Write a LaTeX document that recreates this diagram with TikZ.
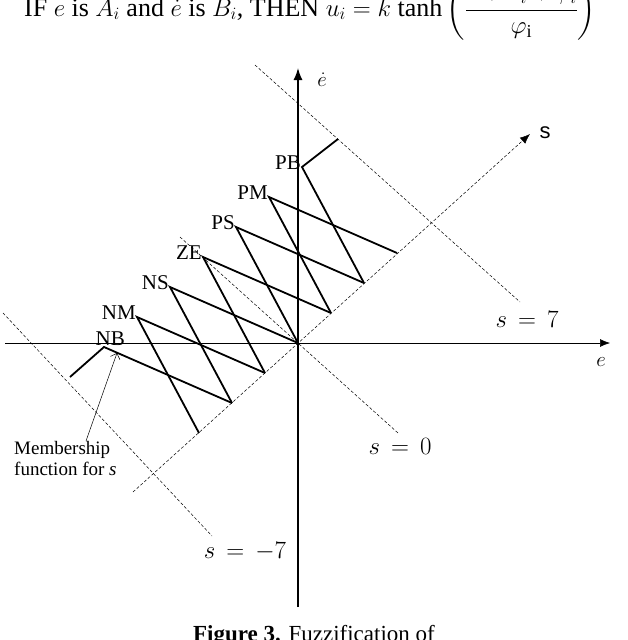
\documentclass[tikz,border=0pt]{standalone}
\usepackage{amsmath}
\usepackage{fontspec}
\setmainfont{Liberation Serif}
\newfontfamily\sansf{Liberation Sans}
\usetikzlibrary{arrows.meta,calc}
\begin{document}
\begin{tikzpicture}[x=1pt,y=-1pt,
  dsh/.style={line width=0.5pt,dash pattern=on 3pt off 2pt},
  mf/.style={line width=1.8pt},
  lab/.style={font=\fontsize{21}{21}\selectfont,inner sep=1pt},
  slab/.style={font=\fontsize{25}{25}\selectfont,inner sep=0pt}]
\useasboundingbox (0,0) rectangle (628,640);
\clip (0,0) rectangle (628,640);
% formula
\node[anchor=west,font=\fontsize{26}{26}\selectfont,inner sep=0pt] (f) at (24,10)
 {IF $e$ is $A_i$ and $\dot e$ is $B_i$, THEN $u_i = k\ \mathrm{tanh}\left(\dfrac{s+\lambda_i+\phi_i}{\varphi_\mathrm{i}}\right)$};
% axes
\coordinate (O) at (298,343);
\coordinate (exl) at (5,343); \coordinate (exr) at (610,343);
\coordinate (eyb) at (298,607); \coordinate (eyt) at (298,68);
\draw[line width=0.6pt,-{Latex[length=10pt,width=8pt]}] (exl) -- (exr);
\draw[line width=1.5pt,-{Latex[length=12pt,width=9pt]}] (eyb) -- (eyt);
\node[font=\fontsize{20}{20}\selectfont,inner sep=0pt] (el) at (601,362) {$e$};
\node[font=\fontsize{20}{20}\selectfont,inner sep=0pt] (edl) at (322,80) {$\dot e$};
% s axis
\coordinate (sa) at (133,492); \coordinate (sb) at (530,134);
\draw[dsh,-{Latex[length=10pt,width=8pt]}] (sa) -- (sb);
\node[font=\sansf\fontsize{22}{22}\selectfont] (sl) at (545,133) {s};
% s=const lines
\coordinate (z1) at (180,237); \coordinate (z2) at (398,433);
\draw[dsh] (z1) -- (z2);
\coordinate (p1) at (255,65); \coordinate (p2) at (520,302);
\draw[dsh] (p1) -- (p2);
\coordinate (m1) at (3,313); \coordinate (m2) at (212,536);
\draw[dsh] (m1) -- (m2);
\node[slab] (s0) at (400,446) {$s\,=\,0$};
\node[slab] (s7) at (527,319) {$s\,=\,7$};
\node[slab] (sm7) at (245,552) {$s\,=\,-7$};
% membership functions
\foreach \i in {-3,...,3}{
  \coordinate (b\i) at ($(O)+\i*(33,-30)$);
  \coordinate (q\i) at ($(O)+(-95,-86)+\i*(33,-30)$);
}
\coordinate (nbend) at (70,377);
\coordinate (pbend) at (338,139);
\draw[mf] (nbend) -- (q-3) -- (b-2);
\draw[mf] (b-3) -- (q-2) -- (b-1);
\draw[mf] (b-2) -- (q-1) -- (b0);
\draw[mf] (b-1) -- (q0) -- (b1);
\draw[mf] (b0) -- (q1) -- (b2);
\draw[mf] (b1) -- (q2) -- (b3);
\draw[mf] (b2) -- (q3) -- (pbend);
\node[lab,anchor=south east] (NB) at ($(q-3)+(22,0)$) {NB};
\node[lab,anchor=south east] (NM) at ($(q-2)+(0,4)$) {NM};
\node[lab,anchor=south east] (NS) at ($(q-1)+(0,4)$) {NS};
\node[lab,anchor=south east] (ZE) at ($(q0)+(0,4)$) {ZE};
\node[lab,anchor=south east] (PS) at ($(q1)+(0,4)$) {PS};
\node[lab,anchor=south east] (PM) at ($(q2)+(0,4)$) {PM};
\node[lab,anchor=south east] (PB) at ($(q3)+(0,4)$) {PB};
% annotation
\node[align=left,font=\fontsize{19}{21}\selectfont,inner sep=0pt,anchor=north west] (mem) at (14,441)
 {Membership\\function for \textit{s}};
\coordinate (ar) at (117,353);
\draw[line width=0.5pt,-{Straight Barb[length=5pt]}] (86,441) -- (ar);
% caption
\node[font=\fontsize{23}{23}\selectfont,anchor=north] (cap) at (314,622) {\textbf{Figure 3.} Fuzzification of};
\end{tikzpicture}
\end{document}
